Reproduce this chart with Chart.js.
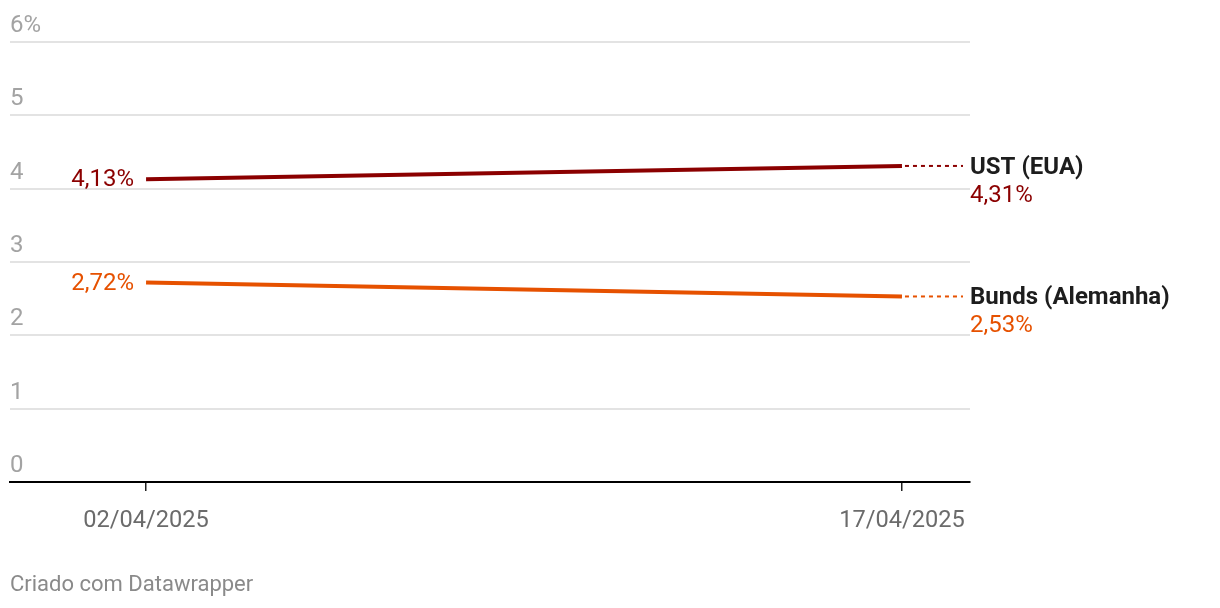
<!DOCTYPE html>
<html>
<head>
<meta charset="utf-8">
<script src="https://cdn.jsdelivr.net/npm/chart.js@4"></script>
<style>
  body { margin: 0; background: #fff; }
  #wrap { width: 1220px; height: 608px; position: relative; }
</style>
</head>
<body>
<div id="wrap"><canvas id="yieldChart" width="1220" height="608"></canvas></div>
<script>
const dates = ["02/04/2025", "17/04/2025"];
const dayIndex = [0, 15];
const ust = [4.13, 4.31];
const bunds = [2.72, 2.53];
const seriesNames = ["UST (EUA)", "Bunds (Alemanha)"];
const seriesColors = ["#8b0000", "#e65100"];
const yTicks = [0, 1, 2, 3, 4, 5, 6];

const seriesValues = [ust, bunds];

function fmt(v) {
    return v.toFixed(2).replace(".", ",") + "%";
}

// labels at both ends of each line + dotted leader to the series name
const lineLabels = {
    id: "lineLabels",
    afterDatasetsDraw(chart) {
        const ctx = chart.ctx;
        const yScale = chart.scales.y;
        ctx.save();

        // y tick labels sit above their gridline
        ctx.font = "24px Roboto";
        ctx.fillStyle = "#a3a3a3";
        ctx.textAlign = "left";
        ctx.textBaseline = "alphabetic";
        yTicks.forEach(function(t) {
            const y = yScale.getPixelForValue(t);
            ctx.fillText(t === 6 ? t + "%" : String(t), 10, y - 10);
        });

        seriesValues.forEach(function(vals, i) {
            const pts = chart.getDatasetMeta(i).data;
            const first = pts[0];
            const last = pts[pts.length - 1];
            const color = seriesColors[i];

            ctx.fillStyle = color;
            ctx.font = "24px Roboto";
            ctx.textAlign = "right";
            ctx.textBaseline = "middle";
            ctx.fillText(fmt(vals[0]), first.x - 12, first.y + 1);

            // dotted leader
            ctx.strokeStyle = color;
            ctx.lineWidth = 2;
            ctx.setLineDash([4, 4]);
            ctx.beginPath();
            ctx.moveTo(last.x + 3, last.y);
            ctx.lineTo(963, last.y);
            ctx.stroke();
            ctx.setLineDash([]);

            ctx.textAlign = "left";
            ctx.fillStyle = "#1d1d1d";
            ctx.font = "bold 24px Roboto";
            ctx.fillText(seriesNames[i], 970, last.y + 2);
            ctx.fillStyle = color;
            ctx.font = "24px Roboto";
            ctx.fillText(fmt(vals[vals.length - 1]), 970, last.y + 30);
        });

        ctx.fillStyle = "#8a8a8a";
        ctx.font = "22px Roboto";
        ctx.textAlign = "left";
        ctx.textBaseline = "middle";
        ctx.fillText("Criado com Datawrapper", 10, 585);
        ctx.restore();
    }
};

const ctx = document.getElementById("yieldChart").getContext("2d");

new Chart(ctx, {
    type: "line",
    data: {
        datasets: seriesValues.map(function(vals, i) {
            return {
                label: seriesNames[i],
                data: vals.map(function(v, k) { return { x: dayIndex[k], y: v }; }),
                borderColor: seriesColors[i],
                borderWidth: 4,
                pointRadius: 0,
                tension: 0
            };
        })
    },
    options: {
        responsive: false,
        animation: false,
        layout: { padding: { left: 10, right: 250, top: 42, bottom: 0 } },
        plugins: {
            legend: { display: false },
            tooltip: { enabled: false }
        },
        scales: {
            x: {
                type: "linear",
                min: -2.7,
                max: 16.35,
                afterBuildTicks: function(scale) {
                    scale.ticks = dayIndex.map(function(d) { return { value: d }; });
                },
                afterFit: function(scale) { scale.height = 126; },
                border: { display: true, color: "#000", width: 2 },
                grid: {
                    drawOnChartArea: false,
                    drawTicks: true,
                    tickLength: 9,
                    color: "#222",
                    lineWidth: 1.5
                },
                ticks: {
                    padding: 16,
                    maxRotation: 0,
                    color: "#6b6b6b",
                    font: { family: "Roboto", size: 23.6 },
                    callback: function(value) {
                        const k = dayIndex.indexOf(value);
                        return k >= 0 ? dates[k] : "";
                    }
                }
            },
            y: {
                min: 0,
                max: 6,
                afterBuildTicks: function(scale) {
                    scale.ticks = yTicks.map(function(t) { return { value: t }; });
                },
                afterFit: function(scale) { scale.width = 0; },
                border: { display: false },
                grid: { color: "#e3e3e3", lineWidth: 2, drawTicks: false },
                ticks: { display: false }
            }
        }
    },
    plugins: [lineLabels]
});
</script>
</body>
</html>
